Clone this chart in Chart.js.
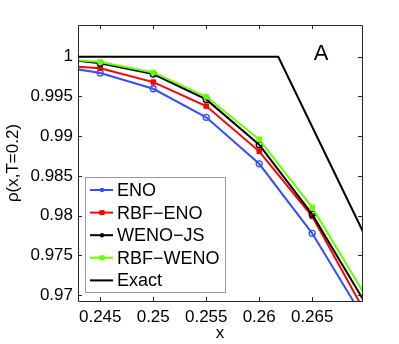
<!DOCTYPE html>
<html>
<head>
<meta charset="utf-8">
<script src="https://cdn.jsdelivr.net/npm/chart.js@4/dist/chart.umd.min.js"></script>
<style>
  html, body { margin: 0; padding: 0; background: #fff; }
  #c { display: block; }
</style>
</head>
<body>
<canvas id="c" width="399" height="344"></canvas>
<script>
// ---- data ----
const xValues      = [0.24, 0.245, 0.25, 0.255, 0.26, 0.265, 0.27];
const enoValues    = [0.99905, 0.99795, 0.99597, 0.99237, 0.98652, 0.97776, 0.96677];
const rbfEnoValues = [0.99902, 0.99854, 0.99681, 0.99379, 0.98809, 0.97990, 0.96780];
const wenoJsValues = [0.99996, 0.99917, 0.99782, 0.99463, 0.98892, 0.98015, 0.96900];
const rbfWenoValues= [0.99986, 0.99933, 0.99803, 0.99496, 0.98960, 0.98103, 0.96996];
const exactX       = [0.24, 0.2618, 0.27];
const exactValues  = [1.0, 1.0, 0.9774];
const seriesLabels = ['ENO', 'RBF\u2212ENO', 'WENO\u2212JS', 'RBF\u2212WENO', 'Exact'];
const xTicks = [0.245, 0.25, 0.255, 0.26, 0.265];
const yTicks = [0.97, 0.975, 0.98, 0.985, 0.99, 0.995, 1];
const xTickLabels = ['0.245', '0.25', '0.255', '0.26', '0.265'];
const yTickLabels = ['0.97', '0.975', '0.98', '0.985', '0.99', '0.995', '1'];
const panelLabel = 'A';
const xTitle = 'x';
const yTitle = '\u03c1(x,T=0.2)';

const FONT = '"Liberation Sans", Arial, Helvetica, sans-serif';
const pts = (xs, ys) => xs.map((x, i) => ({x: x, y: ys[i]}));
const endRadius = (r) => xValues.map((x, i) => (i === 0 || i === xValues.length - 1) ? 0 : r);

const colors = ['#3050ff', '#ff0000', '#000000', '#66ff00', '#000000'];
const datasets = [
  {label: seriesLabels[0], data: pts(xValues, enoValues), borderColor: colors[0], backgroundColor: 'rgba(0,0,0,0)',
   pointStyle: 'circle', pointRadius: endRadius(3), pointBorderWidth: 1.3, order: 5},
  {label: seriesLabels[1], data: pts(xValues, rbfEnoValues), borderColor: colors[1], backgroundColor: colors[1],
   pointStyle: 'rect', pointRadius: endRadius(3.2), pointBorderWidth: 1, order: 4},
  {label: seriesLabels[2], data: pts(xValues, wenoJsValues), borderColor: colors[2], backgroundColor: 'rgba(0,0,0,0)',
   pointStyle: 'circle', pointRadius: endRadius(3), pointBorderWidth: 1.3, order: 3},
  {label: seriesLabels[3], data: pts(xValues, rbfWenoValues), borderColor: colors[3], backgroundColor: colors[3],
   pointStyle: 'rect', pointRadius: endRadius(3.2), pointBorderWidth: 1, order: 2},
  {label: seriesLabels[4], data: pts(exactX, exactValues), borderColor: colors[4], backgroundColor: colors[4],
   pointRadius: 0, order: 1}
];
datasets.forEach(d => { d.borderWidth = 2; d.tension = 0; d.fill = false; d.pointBorderColor = d.borderColor; });

const framePlugin = {
  id: 'frame',
  afterDatasetsDraw(chart) {
    const {ctx, chartArea: a, scales: {x, y}} = chart;
    ctx.save();
    ctx.strokeStyle = '#262626';
    ctx.lineWidth = 1;
    ctx.beginPath();
    ctx.rect(Math.round(a.left) + 0.5, Math.round(a.top) + 0.5, Math.round(a.right - a.left), Math.round(a.bottom - a.top));
    ctx.stroke();
    const tl = 4;
    ctx.beginPath();
    xTicks.forEach(v => {
      const px = Math.round(x.getPixelForValue(v)) + 0.5;
      ctx.moveTo(px, a.bottom); ctx.lineTo(px, a.bottom - tl);
      ctx.moveTo(px, a.top); ctx.lineTo(px, a.top + tl);
    });
    yTicks.forEach(v => {
      const py = Math.round(y.getPixelForValue(v)) + 0.5;
      ctx.moveTo(a.left, py); ctx.lineTo(a.left + tl, py);
      ctx.moveTo(a.right, py); ctx.lineTo(a.right - tl, py);
    });
    ctx.stroke();

    // panel label
    ctx.fillStyle = '#000';
    ctx.font = '22px ' + FONT;
    ctx.textAlign = 'center';
    ctx.textBaseline = 'middle';
    ctx.fillText(panelLabel, a.right - 41, a.top + 29);

    // legend box
    const lx = a.left + 7, ly = a.top + 152, lw = 140, lh = 115;
    ctx.fillStyle = '#fff';
    ctx.fillRect(lx, ly, lw, lh);
    ctx.strokeStyle = '#9a9a9a';
    ctx.strokeRect(lx + 0.5, ly + 0.5, lw, lh);
    ctx.font = '18px ' + FONT;
    ctx.textAlign = 'left';
    chart.data.datasets.forEach((d, i) => {
      const cy = ly + 13 + i * 22.6;
      ctx.strokeStyle = d.borderColor;
      ctx.lineWidth = 2;
      ctx.beginPath();
      ctx.moveTo(lx + 5, cy); ctx.lineTo(lx + 28, cy);
      ctx.stroke();
      if (i < 4) {
        ctx.lineWidth = 1;
        if (d.pointStyle === 'rect') {
          ctx.fillStyle = d.borderColor;
          ctx.fillRect(lx + 14.5, cy - 2.5, 5, 5);
        } else {
          ctx.fillStyle = d.borderColor;
          ctx.beginPath(); ctx.arc(lx + 17, cy, 2.2, 0, Math.PI * 2); ctx.fill();
        }
      }
      ctx.fillStyle = '#000';
      ctx.textBaseline = 'middle';
      ctx.fillText(d.label, lx + 32, cy + 1);
    });
    ctx.restore();
  }
};

new Chart(document.getElementById('c'), {
  type: 'line',
  data: {datasets: datasets},
  options: {
    responsive: false,
    animation: false,
    devicePixelRatio: 1,
    layout: {padding: {top: 25, right: 37, left: 0, bottom: 0}},
    plugins: {legend: {display: false}, tooltip: {enabled: false}},
    scales: {
      x: {
        type: 'linear', position: 'bottom', min: 0.2429, max: 0.2697,
        grid: {display: false, drawTicks: false}, border: {display: false},
        afterBuildTicks: s => { s.ticks = xTicks.map(v => ({value: v})); },
        afterFit: s => { s.height = 43; },
        ticks: {color: '#000', padding: 6, maxRotation: 0, autoSkip: false,
                font: {family: FONT, size: 17},
                callback: (v) => xTickLabels[xTicks.indexOf(v)]},
        title: {display: true, text: xTitle, color: '#000', padding: {top: 0, bottom: 0},
                font: {family: FONT, size: 17, lineHeight: 1.2}}
      },
      y: {
        type: 'linear', position: 'left', min: 0.96924, max: 1.004,
        grid: {display: false, drawTicks: false}, border: {display: false},
        afterBuildTicks: s => { s.ticks = yTicks.map(v => ({value: v})); },
        afterFit: s => { s.width = 78; },
        ticks: {color: '#000', padding: 5, autoSkip: false,
                font: {family: FONT, size: 17},
                callback: (v) => yTickLabels[yTicks.indexOf(v)]},
        title: {display: true, text: yTitle, color: '#000', padding: {top: 3, bottom: 0},
                font: {family: FONT, size: 17, lineHeight: 1.2}}
      }
    }
  },
  plugins: [framePlugin]
});
</script>
</body>
</html>
